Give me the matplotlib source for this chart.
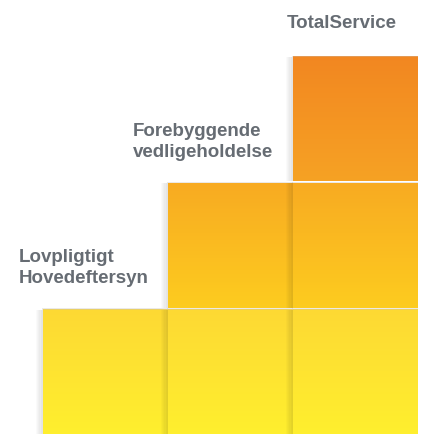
import numpy as np
import matplotlib
matplotlib.use("Agg")
import matplotlib.pyplot as plt
from matplotlib.patches import Rectangle

# Service levels: each column stacks one more tier than the previous
labels = ["Lovpligtigt\nHovedeftersyn", "Forebyggende\nvedligeholdelse", "TotalService"]
tiers = [1, 2, 3]

# gradient (top colour, bottom colour) per tier, bottom tier first
tier_top = ["#FDD934", "#F8AB22", "#F28721"]
tier_bottom = ["#FFEF2E", "#FDCC1F", "#F6A224"]

# label placement relative to its column (x offset, y above stack)
label_dx = [-0.192, -0.28, -0.048]
label_dy = [0.162, 0.159, 0.18]

TEXT = "#666c73"
GAP = 0.015
SHADOW = [0.02, 0.04, 0.06, 0.08, 0.10, 0.11]


def hex_rgb(c):
    c = c.lstrip("#")
    return np.array([int(c[i:i + 2], 16) for i in (0, 2, 4)]) / 255.0


def gradient(top, bottom, n=128):
    t = np.linspace(0, 1, n)[:, None]
    g = hex_rgb(top)[None, :] * (1 - t) + hex_rgb(bottom)[None, :] * t
    return g[:, None, :]


fig = plt.figure(figsize=(4.24, 4.34), dpi=100)
ax = fig.add_axes([43 / 424, 0, 375 / 424, 379 / 434])
ax.set_axis_off()

for col, n in enumerate(tiers):
    for k in range(n):
        ax.imshow(gradient(tier_top[k], tier_bottom[k]), aspect="auto",
                  extent=(col, col + 1, k, k + 1 - GAP), origin="upper",
                  zorder=1, interpolation="nearest")
        # soft shadow on the left edge of every block
        w = 0.01
        for j, a in enumerate(SHADOW):
            ax.add_patch(Rectangle((col - w * (len(SHADOW) - j), k), w, 1 - GAP,
                                   facecolor="black", alpha=a, lw=0, zorder=2,
                                   clip_on=False))
        # faint line on top of each block
        ax.add_patch(Rectangle((col - 0.01, k + 1 - GAP), 1.01, GAP * 0.6,
                               facecolor="#c8c0b8", alpha=0.35, lw=0, zorder=2,
                               clip_on=False))

for col, n in enumerate(tiers):
    ax.text(col + label_dx[col], n + label_dy[col], labels[col], ha="left",
            va="bottom", fontsize=13.5, color=TEXT, fontweight="bold",
            family=["Liberation Sans", "DejaVu Sans"], linespacing=1.35,
            clip_on=False)

ax.set_xlim(0, 3)
ax.set_ylim(0, 3)

fig.savefig("out.png", dpi=100)
